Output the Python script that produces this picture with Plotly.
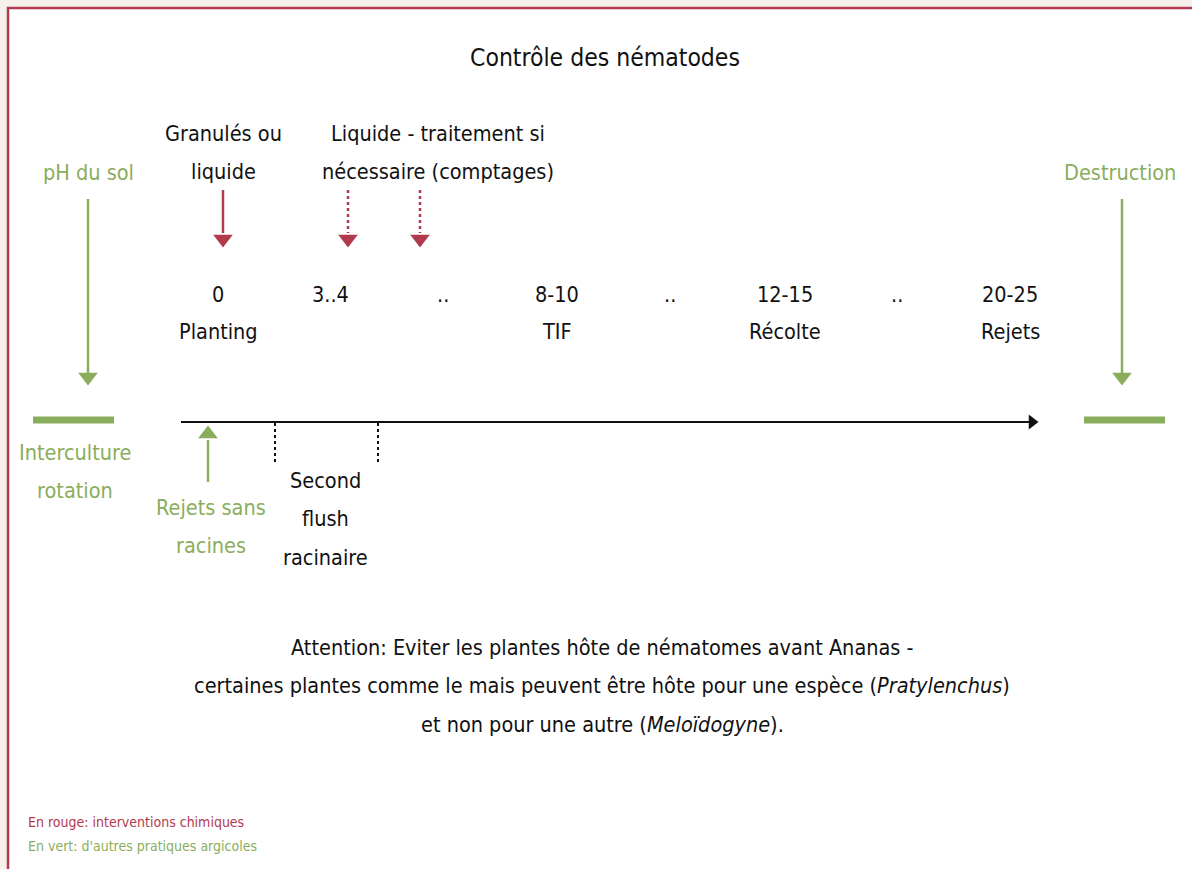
import plotly.graph_objects as go

W, H = 1192, 869
RED = "#b23a4f"
GREEN = "#8aad5c"
BLACK = "#111111"
FONT = "DejaVu Sans Condensed, Liberation Sans Narrow, sans-serif"

# ---- content ----
title = "Contrôle des nématodes"
stage_numbers = ["0", "3..4", "..", "8-10", "..", "12-15", "..", "20-25"]
stage_names = ["Planting", "", "", "TIF", "", "Récolte", "", "Rejets"]
red_label_1 = ["Granulés ou", "liquide"]
red_label_2 = ["Liquide - traitement si", "nécessaire (comptages)"]
green_top_left = "pH du sol"
green_top_right = "Destruction"
green_left = ["Interculture", "rotation"]
green_bottom = ["Rejets sans", "racines"]
below_label = ["Second", "flush", "racinaire"]
note_lines = [
    "Attention: Eviter les plantes hôte de nématomes avant Ananas -",
    "certaines plantes comme le mais peuvent être hôte pour une espèce (<i>Pratylenchus</i>)",
    "et non pour une autre (<i>Meloïdogyne</i>).",
]
legend_lines = ["En rouge: interventions chimiques", "En vert: d'autres pratiques argicoles"]

# ---- layout positions (pixels) ----
stage_x = [218, 330, 443, 557, 670, 785, 897, 1010]

fig = go.Figure()

shapes = [
    dict(type="rect", x0=8, y0=8, x1=1210, y1=890, line=dict(color=RED, width=2.5), fillcolor="white", layer="below"),
    dict(type="line", x0=181, y0=422, x1=1030, y1=422, line=dict(color=BLACK, width=2)),
    dict(type="line", x0=275, y0=423, x1=275, y1=465, line=dict(color=BLACK, width=2, dash="dot")),
    dict(type="line", x0=378, y0=423, x1=378, y1=465, line=dict(color=BLACK, width=2, dash="dot")),
    dict(type="line", x0=33, y0=420, x1=114, y1=420, line=dict(color=GREEN, width=7)),
    dict(type="line", x0=1084, y0=420, x1=1165, y1=420, line=dict(color=GREEN, width=7)),
    dict(type="line", x0=88, y0=199, x1=88, y1=373, line=dict(color=GREEN, width=2.5)),
    dict(type="line", x0=1122, y0=199, x1=1122, y1=373, line=dict(color=GREEN, width=2.5)),
    dict(type="line", x0=208, y0=440, x1=208, y1=482, line=dict(color=GREEN, width=2.5)),
    dict(type="line", x0=223, y0=190, x1=223, y1=233, line=dict(color=RED, width=2.5)),
    dict(type="line", x0=348, y0=190, x1=348, y1=233, line=dict(color=RED, width=2.5, dash="dot")),
    dict(type="line", x0=420, y0=190, x1=420, y1=233, line=dict(color=RED, width=2.5, dash="dot")),
]

fig.add_trace(go.Scatter(x=[223, 348, 420], y=[239, 239, 239], mode="markers",
                         marker=dict(symbol="triangle-down", size=17, color=RED),
                         hoverinfo="skip", showlegend=False))
fig.add_trace(go.Scatter(x=[88, 1122], y=[377, 377], mode="markers",
                         marker=dict(symbol="triangle-down", size=17, color=GREEN),
                         hoverinfo="skip", showlegend=False))
fig.add_trace(go.Scatter(x=[208], y=[434], mode="markers",
                         marker=dict(symbol="triangle-up", size=17, color=GREEN),
                         hoverinfo="skip", showlegend=False))
fig.add_trace(go.Scatter(x=[1032], y=[422], mode="markers",
                         marker=dict(symbol="triangle-right", size=13, color=BLACK),
                         hoverinfo="skip", showlegend=False))

ann = []
def txt(x, y, s, color=BLACK, size=21.5, xanchor="center"):
    ann.append(dict(x=x, y=y, text=s, showarrow=False, xanchor=xanchor, yanchor="middle",
                    font=dict(family=FONT, size=size, color=color)))

def block(x, y0, lines, color=BLACK, size=21.5, step=38.5):
    for i, s in enumerate(lines):
        txt(x, y0 + i * step, s, color, size)

txt(605, 57, title, size=24.5)
for x, n, s in zip(stage_x, stage_numbers, stage_names):
    txt(x, 294, n)
    if s:
        txt(x, 331, s)
block(223, 133, red_label_1)
block(438, 133, red_label_2)
txt(88, 172, green_top_left, GREEN)
txt(1120, 172, green_top_right, GREEN)
block(75, 452, green_left, GREEN)
block(211, 507, green_bottom, GREEN)
block(325, 480, below_label)
block(602, 647, note_lines, step=38.5)
txt(26, 822, legend_lines[0], RED, size=14, xanchor="left")
txt(26, 846, legend_lines[1], GREEN, size=14, xanchor="left")

fig.update_layout(
    width=W, height=H, margin=dict(l=0, r=0, t=0, b=0),
    paper_bgcolor="#f5f1ea", plot_bgcolor="#f5f1ea",
    xaxis=dict(range=[0, W], visible=False, fixedrange=True),
    yaxis=dict(range=[H, 0], visible=False, fixedrange=True),
    shapes=shapes, annotations=ann, showlegend=False,
)
fig.write_html("out.html", config={"displayModeBar": False},
               post_script="document.body.style.margin='0px';")
